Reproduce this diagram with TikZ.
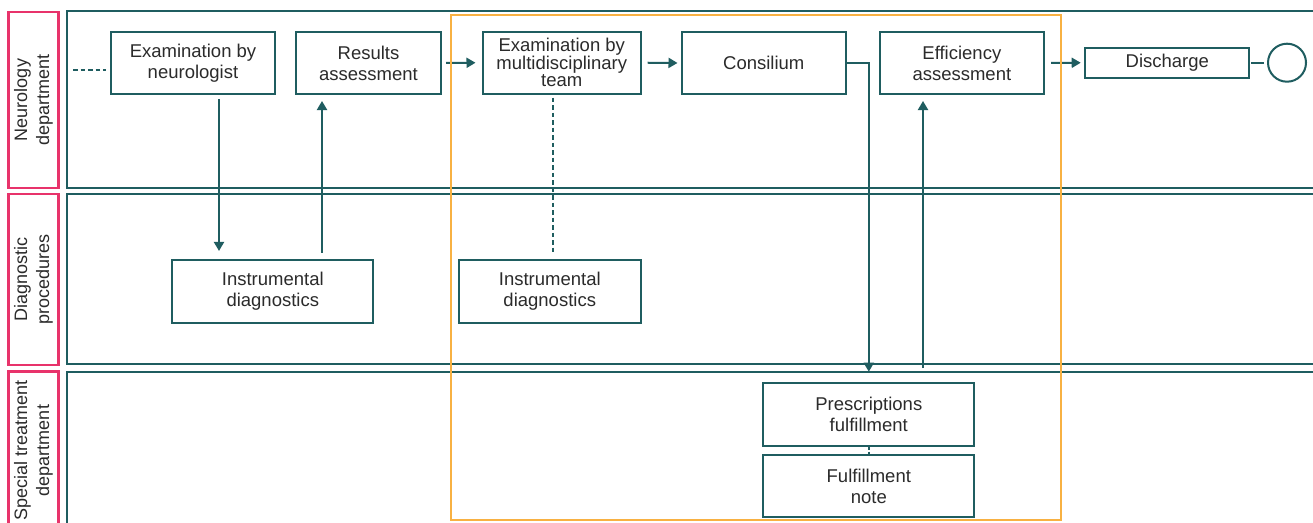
\documentclass[tikz,border=0pt]{standalone}
\usepackage{fontspec}
\setmainfont{Liberation Sans}
\usetikzlibrary{arrows.meta,calc}
\definecolor{tealc}{HTML}{1F5D60}
\definecolor{pinkc}{HTML}{E8336B}
\definecolor{orangec}{HTML}{F8B142}
\definecolor{txtc}{HTML}{2B2B2B}
\tikzset{
  box/.style={draw=tealc, line width=2pt, fill=white, align=center, inner sep=0pt, text=txtc,
    font=\fontsize{18.5}{21}\selectfont},
  lab/.style={draw=pinkc, line width=2.4pt, align=center, inner sep=0pt, text=txtc, rotate=90,
    font=\fontsize{18}{22}\selectfont, minimum height=50pt},
  lane/.style={draw=tealc, line width=2pt},
  conn/.style={draw=tealc, line width=2pt},
  arr/.style={conn, -{Triangle[length=9pt,width=10pt]}},
  dsh/.style={conn, dash pattern=on 4.5pt off 3pt},
  zone/.style={draw=orangec, line width=2.2pt}
}
\begin{document}
\begin{tikzpicture}[x=1pt,y=-1pt]
\useasboundingbox (0,0) rectangle (1313,522);
\clip (0,0) rectangle (1313,522);
\fill[white] (0,0) rectangle (1313,522);

% lanes
\draw[lane] (66.7,10.5) rectangle (1330,188);
\draw[lane] (66.7,194) rectangle (1330,363.5);
\draw[lane] (66.7,371.5) rectangle (1330,540);

\node[lab, minimum width=176pt] (L1) at (33.5,100) {Neurology\\department};
\node[lab, minimum width=171pt] (L2) at (33.5,279.5) {Diagnostic\\procedures};
\node[lab, minimum width=158pt] (L3) at (33.5,450.5) {Special treatment\\department};

% nodes
\node[box, minimum width=164pt, minimum height=62pt] (n1) at (193,63) {Examination by\\neurologist};
\node[box, minimum width=145pt, minimum height=62pt] (n2) at (368.5,63) {Results\\assessment};
\node[box, minimum width=158.5pt, minimum height=62pt, font=\fontsize{18.5}{17.5}\selectfont] (n3) at (561.75,62.7) {Examination by\\multidisciplinary\\team};
\node[box, minimum width=163.5pt, minimum height=62pt] (n4) at (763.75,63) {Consilium};
\node[box, minimum width=163.7pt, minimum height=62pt] (n5) at (961.85,63) {Efficiency\\assessment};
\node[box, minimum width=164pt, minimum height=30pt] (n6) at (1167.3,62.7) {Discharge};
\node[circle, draw=tealc, line width=2pt, minimum size=38pt, inner sep=0pt] (end) at (1287,62.7) {};

\node[box, minimum width=201pt, minimum height=62.7pt] (d1) at (272.8,291.3) {Instrumental\\diagnostics};
\node[box, minimum width=182.5pt, minimum height=62.5pt] (d2) at (549.75,291.3) {Instrumental\\diagnostics};

\node[box, minimum width=211pt, minimum height=63pt] (p1) at (868.8,414.2) {Prescriptions\\fulfillment};
\node[box, minimum width=211pt, minimum height=62pt] (p2) at (868.8,486) {Fulfillment\\note};

% helper coordinates
\coordinate (start) at (73,70);
\coordinate (xa) at (219,0);
\coordinate (xb) at (322,0);
\coordinate (xc) at (553.3,0);
\coordinate (xd) at (923,0);

% connectors
\draw[dsh, shorten >=4pt] (start) -- (start -| n1.west);
\draw[arr, shorten <=4pt, shorten >=8pt] (n1.south -| xa) -- (d1.north -| xa);
\draw[arr, shorten <=6pt, shorten >=6pt] (d1.north -| xb) -- (n2.south -| xb);
\draw[arr, shorten <=4pt, shorten >=6pt] (n2.east) -- (n3.west);
\draw[arr, shorten <=5.5pt, shorten >=3.5pt] (n3.east) -- (n4.west);
\draw[arr, shorten >=10pt] (n4.east) -| (p1.north);
\draw[arr, shorten <=13.7pt, shorten >=6pt] (p1.north -| xd) -- (n5.south -| xd);
\draw[arr, shorten <=6.3pt, shorten >=3.6pt] (n5.east) -- (n6.west);
\draw[conn, shorten <=1pt, shorten >=3pt] (n6.east) -- (end.west);
\draw[dsh, shorten <=3pt, shorten >=5pt] (n3.south -| xc) -- (d2.north -| xc);
\draw[dsh, dash pattern=on 3pt off 2pt] (p1.south) -- (p2.north);

% highlighted zone
\draw[zone] (451,15) rectangle (1061,520);
\end{tikzpicture}
\end{document}
